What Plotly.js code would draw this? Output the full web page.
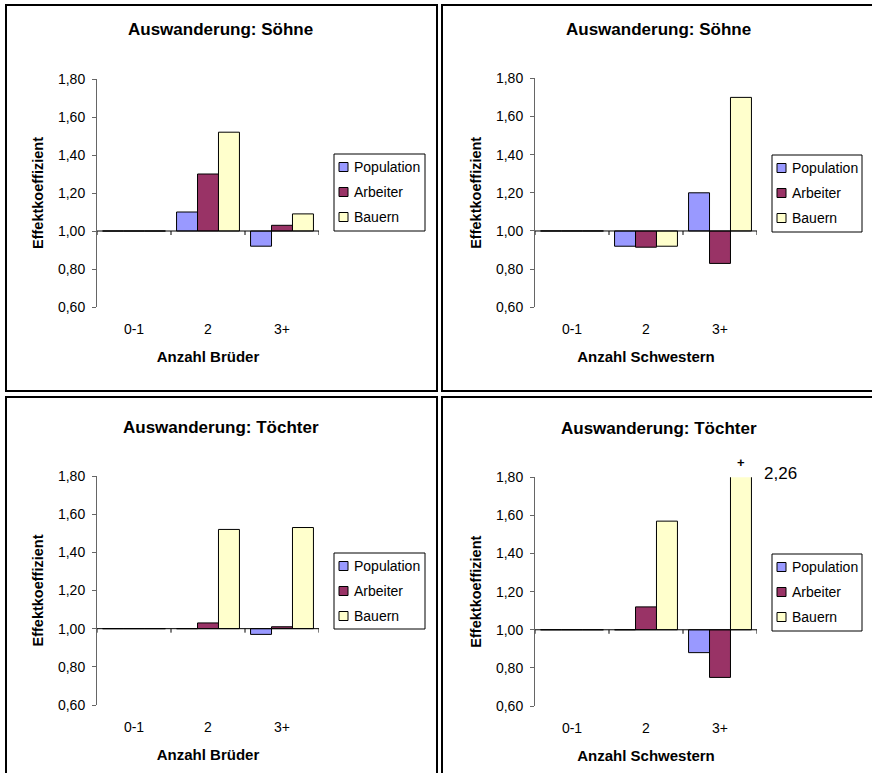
<!DOCTYPE html>
<html>
<head>
<meta charset="utf-8">
<script src="https://cdn.plot.ly/plotly-3.0.1.min.js"></script>
<style>html,body{margin:0;padding:0;background:#fff;}#chart{width:872px;height:773px;}</style>
</head>
<body>
<div id="chart"></div>
<script>
// ---- data ----
const categories = ['0-1', '2', '3+'];
const seriesNames = ['Population', 'Arbeiter', 'Bauern'];
const panelTitles = ['Auswanderung: Söhne', 'Auswanderung: Söhne', 'Auswanderung: Töchter', 'Auswanderung: Töchter'];
const xTitles = ['Anzahl Brüder', 'Anzahl Schwestern', 'Anzahl Brüder', 'Anzahl Schwestern'];
const yTitle = 'Effektkoeffizient';
const yTickValues = [0.6, 0.8, 1.0, 1.2, 1.4, 1.6, 1.8];

const soehneBrueder_Population = [1.00, 1.10, 0.92];
const soehneBrueder_Arbeiter   = [1.00, 1.30, 1.03];
const soehneBrueder_Bauern     = [1.00, 1.52, 1.09];

const soehneSchwestern_Population = [1.00, 0.92, 1.20];
const soehneSchwestern_Arbeiter   = [1.00, 0.915, 0.83];
const soehneSchwestern_Bauern     = [1.00, 0.92, 1.70];

const toechterBrueder_Population = [1.00, 1.00, 0.97];
const toechterBrueder_Arbeiter   = [1.00, 1.03, 1.01];
const toechterBrueder_Bauern     = [1.00, 1.52, 1.53];

const toechterSchwestern_Population = [1.00, 1.00, 0.88];
const toechterSchwestern_Arbeiter   = [1.00, 1.12, 0.75];
const toechterSchwestern_Bauern     = [1.00, 1.57, 2.26];

const baseline = 1.0;
const yMin = 0.6, yMax = 1.8;

// ---- styles / layout geometry ----
const colors = ['#9999FF', '#993366', '#FFFFCC'];
const FONT = 'Liberation Sans, Arial, sans-serif';
const W = 872, H = 773;
const px = v => v / W;
const py = v => 1 - v / H;

const panelData = [
  [soehneBrueder_Population, soehneBrueder_Arbeiter, soehneBrueder_Bauern],
  [soehneSchwestern_Population, soehneSchwestern_Arbeiter, soehneSchwestern_Bauern],
  [toechterBrueder_Population, toechterBrueder_Arbeiter, toechterBrueder_Bauern],
  [toechterSchwestern_Population, toechterSchwestern_Arbeiter, toechterSchwestern_Bauern]
];

const geom = [
  {xd: [97, 319],  yd: [79, 307],    tc: [220, 29],  box: [334, 154, 425, 231], frame: [6, 5, 437, 391]},
  {xd: [535, 757], yd: [78.3, 307.3], tc: [658, 29],  box: [772, 155, 862, 232], frame: [442, 5, 890, 391]},
  {xd: [97, 319],  yd: [476, 705],   tc: [221, 427], box: [334, 553, 425, 629], frame: [6, 397, 437, 790]},
  {xd: [535, 757], yd: [477.3, 706], tc: [659, 428], box: [772, 554, 862, 631], frame: [442, 397, 890, 790]}
];

const traces = [];
const layout = {
  width: W, height: H,
  margin: {l: 0, r: 0, t: 0, b: 0},
  paper_bgcolor: '#fff', plot_bgcolor: 'rgba(0,0,0,0)',
  showlegend: false,
  barmode: 'group', bargap: 0.15, bargroupgap: 0,
  separators: ',.',
  font: {family: FONT, color: '#000', size: 14},
  shapes: [], annotations: []
};

geom.forEach((g, p) => {
  const sfx = p === 0 ? '' : String(p + 1);
  const xa = 'x' + sfx, ya = 'y' + sfx;
  panelData[p].forEach((vals, s) => {
    traces.push({
      type: 'bar', x: categories, y: vals.map(v => v - baseline), base: baseline,
      name: seriesNames[s], xaxis: xa, yaxis: ya,
      marker: {color: colors[s], line: {color: '#000', width: 1}},
      customdata: vals, hovertemplate: '%{x}: %{customdata:.2f}<extra>' + seriesNames[s] + '</extra>',
      cliponaxis: true
    });
  });
  layout['xaxis' + sfx] = {
    domain: [px(g.xd[0]), px(g.xd[1])], anchor: ya,
    type: 'category', categoryorder: 'array', categoryarray: categories,
    range: [-0.5, categories.length - 0.5],
    showline: false, showgrid: false, zeroline: false, ticks: '',
    ticklabelstandoff: 12,
    tickfont: {family: FONT, size: 14, color: '#000'},
    title: {text: '<b>' + xTitles[p] + '</b>', font: {family: FONT, size: 15, color: '#000'}, standoff: 15},
    fixedrange: true
  };
  layout['yaxis' + sfx] = {
    domain: [py(g.yd[1]), py(g.yd[0])], anchor: xa,
    range: [yMin, yMax], tickvals: yTickValues, tickformat: '.2f',
    showline: true, linecolor: '#666', linewidth: 1,
    ticks: 'outside', ticklen: 4, tickcolor: '#666',
    showgrid: false, zeroline: false, ticklabelstandoff: 4,
    tickfont: {family: FONT, size: 14, color: '#000'},
    title: {text: '<b>' + yTitle + '</b>', font: {family: FONT, size: 14.5, color: '#000'}, standoff: 10},
    fixedrange: true
  };
  // baseline (category axis crossing at 1,00)
  layout.shapes.push({type: 'line', xref: xa + ' domain', yref: ya, x0: 0, x1: 1, y0: baseline, y1: baseline,
    line: {color: '#000', width: 1}});
  for (let b = -0.5; b <= categories.length - 0.5; b += 1) {
    layout.shapes.push({type: 'line', xref: xa, yref: ya, x0: b, x1: b,
      ysizemode: 'pixel', yanchor: baseline, y0: 0, y1: -4, line: {color: '#000', width: 1}});
  }
  // panel frame
  layout.shapes.push({type: 'rect', xref: 'paper', yref: 'paper',
    x0: px(g.frame[0]), x1: px(g.frame[2]), y0: py(g.frame[3]), y1: py(g.frame[1]),
    line: {color: '#000', width: 2}, fillcolor: 'rgba(0,0,0,0)'});
  // panel title
  layout.annotations.push({xref: 'paper', yref: 'paper', x: px(g.tc[0]), y: py(g.tc[1]),
    xanchor: 'center', yanchor: 'middle', showarrow: false,
    text: '<b>' + panelTitles[p] + '</b>', font: {family: FONT, size: 17, color: '#000'}});
  // legend box
  const [bx0, by0, bx1, by1] = g.box;
  layout.shapes.push({type: 'rect', xref: 'paper', yref: 'paper',
    x0: px(bx0), x1: px(bx1), y0: py(by1), y1: py(by0),
    line: {color: '#000', width: 1}, fillcolor: '#fff', layer: 'above'});
  seriesNames.forEach((nm, s) => {
    const cy = by0 + 13 + 25 * s;
    layout.shapes.push({type: 'rect', xref: 'paper', yref: 'paper',
      x0: px(bx0 + 5), x1: px(bx0 + 14), y0: py(cy + 4.5), y1: py(cy - 4.5),
      line: {color: '#000', width: 1}, fillcolor: colors[s], layer: 'above'});
    layout.annotations.push({xref: 'paper', yref: 'paper', x: px(bx0 + 18), y: py(cy),
      xanchor: 'left', yanchor: 'middle', showarrow: false, text: nm,
      font: {family: FONT, size: 14, color: '#000'}});
  });
  // values beyond the axis maximum
  panelData[p].forEach((vals, s) => {
    vals.forEach((v, c) => {
      if (v > yMax) {
        const off = (s - (seriesNames.length - 1) / 2) * 21;
        layout.annotations.push({xref: xa, yref: ya, x: categories[c], y: yMax,
          xshift: off, yshift: 15, xanchor: 'center', yanchor: 'middle', showarrow: false,
          text: '<b>+</b>', font: {family: FONT, size: 13, color: '#000'}});
        layout.annotations.push({xref: xa, yref: ya, x: categories[c], y: yMax,
          xshift: off + 21, yshift: 4, xanchor: 'left', yanchor: 'middle', showarrow: false,
          text: v.toFixed(2).replace('.', ','), font: {family: FONT, size: 17, color: '#000'}});
      }
    });
  });
});

Plotly.newPlot('chart', traces, layout, {displayModeBar: false, staticPlot: true});
</script>
</body>
</html>
